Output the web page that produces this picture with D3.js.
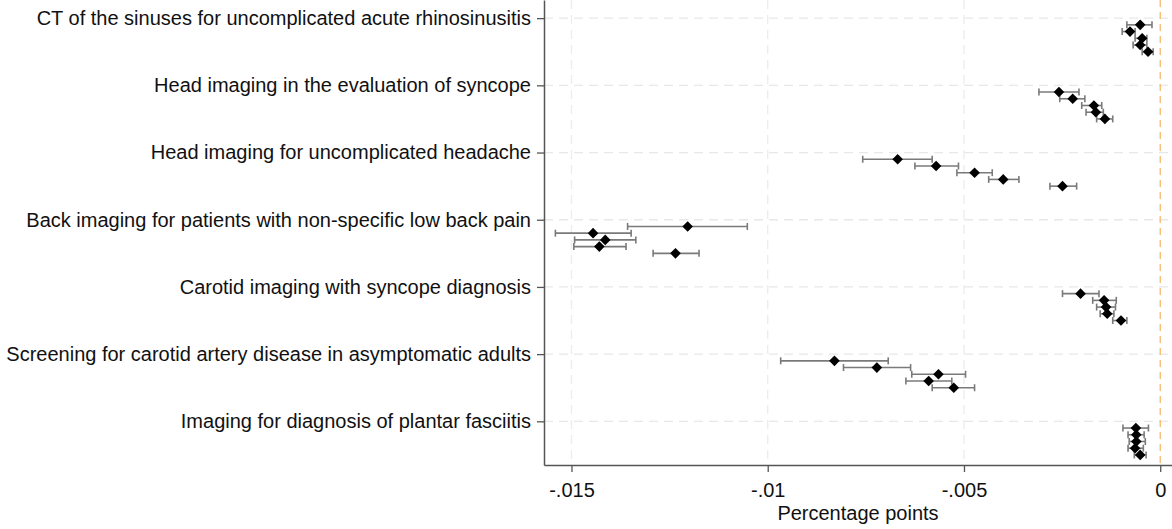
<!DOCTYPE html>
<html>
<head>
<meta charset="utf-8">
<script src="https://cdn.jsdelivr.net/npm/d3@7"></script>
<style>
  body { margin: 0; background: #fff; }
  svg { display: block; font-family: "Liberation Sans", Arial, sans-serif; }
</style>
</head>
<body>
<div id="wrapper"></div>
<script>
const categories = [
  'CT of the sinuses for uncomplicated acute rhinosinusitis',
  'Head imaging in the evaluation of syncope',
  'Head imaging for uncomplicated headache',
  'Back imaging for patients with non-specific low back pain',
  'Carotid imaging with syncope diagnosis',
  'Screening for carotid artery disease in asymptomatic adults',
  'Imaging for diagnosis of plantar fasciitis'
]

// five estimates per measure (point, lower CI, upper CI)
const estimates = [
  [-0.00051, -0.00077, -0.00046, -0.00051, -0.00031],
  [-0.00258, -0.00223, -0.00169, -0.00164, -0.00141],
  [-0.00669, -0.00571, -0.00473, -0.00400, -0.00249],
  [-0.01204, -0.01445, -0.01414, -0.01429, -0.01235],
  [-0.00203, -0.00143, -0.00138, -0.00135, -0.00100],
  [-0.00830, -0.00722, -0.00565, -0.00590, -0.00526],
  [-0.00062, -0.00061, -0.00061, -0.00064, -0.00051]
]
const lowerCI = [
  [-0.00085, -0.00097, -0.00064, -0.00069, -0.00046],
  [-0.00309, -0.00256, -0.00200, -0.00189, -0.00162],
  [-0.00758, -0.00625, -0.00518, -0.00437, -0.00281],
  [-0.01357, -0.01541, -0.01492, -0.01494, -0.01292],
  [-0.00249, -0.00172, -0.00162, -0.00153, -0.00121],
  [-0.00967, -0.00807, -0.00633, -0.00648, -0.00581],
  [-0.00095, -0.00082, -0.00079, -0.00082, -0.00066]
]
const upperCI = [
  [-0.00021, -0.00064, -0.00034, -0.00034, -0.00018],
  [-0.00207, -0.00192, -0.00149, -0.00145, -0.00121],
  [-0.00581, -0.00514, -0.00428, -0.00360, -0.00213],
  [-0.01052, -0.01348, -0.01336, -0.01361, -0.01175],
  [-0.00156, -0.00112, -0.00114, -0.00118, -0.00085],
  [-0.00693, -0.00636, -0.00496, -0.00531, -0.00473],
  [-0.00030, -0.00041, -0.00038, -0.00043, -0.00036]
]
const xTicks = [-0.015, -0.01, -0.005, 0]
const xTickLabels = ['-.015', '-.01', '-.005', '0']

const data = []
categories.forEach((c, i) => {
  estimates[i].forEach((v, k) => {
    data.push({cat: i, k, est: v, lo: lowerCI[i][k], hi: upperCI[i][k]})
  })
})

const dimensions = {
  width: 1172,
  height: 529,
  left: 544,
  right: 1172,
  top: 0,
  bottom: 465,
}
const fontSize = 20

const svg = d3.select('#wrapper')
  .append('svg')
    .attr('width', dimensions.width)
    .attr('height', dimensions.height)

const xScale = d3.scaleLinear()
    .domain([-0.0157, 0.0003])
    .range([dimensions.left, dimensions.right])

const yScale = d3.scaleLinear()
    .domain([-0.27, 6.65])
    .range([dimensions.top, dimensions.bottom])

const yPos = d => yScale(d.cat + (d.k + 1) * 0.1)

// gridlines
svg.append('g')
  .selectAll('line')
  .data(categories)
  .join('line')
    .attr('x1', dimensions.left)
    .attr('x2', dimensions.right)
    .attr('y1', (d, i) => yScale(i))
    .attr('y2', (d, i) => yScale(i))
    .attr('stroke', '#e8e8e8')
    .attr('stroke-width', 1.3)
    .attr('stroke-dasharray', '9,6')

svg.append('g')
  .selectAll('line')
  .data(xTicks.slice(0, 3))
  .join('line')
    .attr('x1', d => xScale(d))
    .attr('x2', d => xScale(d))
    .attr('y1', dimensions.top)
    .attr('y2', dimensions.bottom)
    .attr('stroke', '#ececec')
    .attr('stroke-width', 1.3)
    .attr('stroke-dasharray', '9,6')

// zero reference line
svg.append('line')
    .attr('x1', xScale(0))
    .attr('x2', xScale(0))
    .attr('y1', dimensions.top)
    .attr('y2', dimensions.bottom)
    .attr('stroke', '#f7b86b')
    .attr('stroke-width', 1.3)
    .attr('stroke-dasharray', '7,5')

// confidence intervals
const ci = svg.append('g')
  .selectAll('g')
  .data(data)
  .join('g')
    .attr('stroke', '#7a7a7a')
    .attr('stroke-width', 1.6)

ci.append('line')
    .attr('x1', d => xScale(d.lo))
    .attr('x2', d => xScale(d.hi))
    .attr('y1', yPos)
    .attr('y2', yPos)
ci.append('line')
    .attr('x1', d => xScale(d.lo))
    .attr('x2', d => xScale(d.lo))
    .attr('y1', d => yPos(d) - 3.5)
    .attr('y2', d => yPos(d) + 3.5)
ci.append('line')
    .attr('x1', d => xScale(d.hi))
    .attr('x2', d => xScale(d.hi))
    .attr('y1', d => yPos(d) - 3.5)
    .attr('y2', d => yPos(d) + 3.5)

// point estimates
svg.append('g')
  .selectAll('path')
  .data(data)
  .join('path')
    .attr('d', d3.symbol(d3.symbolDiamond2, 72))
    .attr('transform', d => `translate(${xScale(d.est)},${yPos(d)})`)
    .attr('fill', '#000')

// axes
const yAxis = svg.append('g')
    .attr('transform', `translate(${dimensions.left},0)`)
    .call(d3.axisLeft(yScale)
      .tickValues(d3.range(categories.length))
      .tickFormat(i => categories[i])
      .tickSize(7)
      .tickPadding(6)
      .tickSizeOuter(0))
yAxis.select('.domain').attr('stroke', '#555').attr('stroke-width', 1.5)
yAxis.selectAll('.tick line').attr('stroke', '#555').attr('stroke-width', 1.3)
yAxis.selectAll('.tick text')
    .attr('font-size', fontSize)
    .attr('font-family', '"Liberation Sans", Arial, sans-serif')
    .attr('fill', '#111')

const xAxis = svg.append('g')
    .attr('transform', `translate(0,${dimensions.bottom})`)
    .call(d3.axisBottom(xScale)
      .tickValues(xTicks)
      .tickFormat((d, i) => xTickLabels[i])
      .tickSize(7)
      .tickPadding(11)
      .tickSizeOuter(0))
xAxis.select('.domain').attr('stroke', '#555').attr('stroke-width', 1.5)
xAxis.selectAll('.tick line').attr('stroke', '#555').attr('stroke-width', 1.3)
xAxis.selectAll('.tick text')
    .attr('font-size', fontSize)
    .attr('font-family', '"Liberation Sans", Arial, sans-serif')
    .attr('fill', '#111')

svg.append('text')
    .attr('x', (xScale(-0.0157) + xScale(0.0003)) / 2)
    .attr('y', 520)
    .attr('text-anchor', 'middle')
    .attr('font-size', fontSize)
    .attr('fill', '#111')
    .text('Percentage points')
</script>
</body>
</html>
